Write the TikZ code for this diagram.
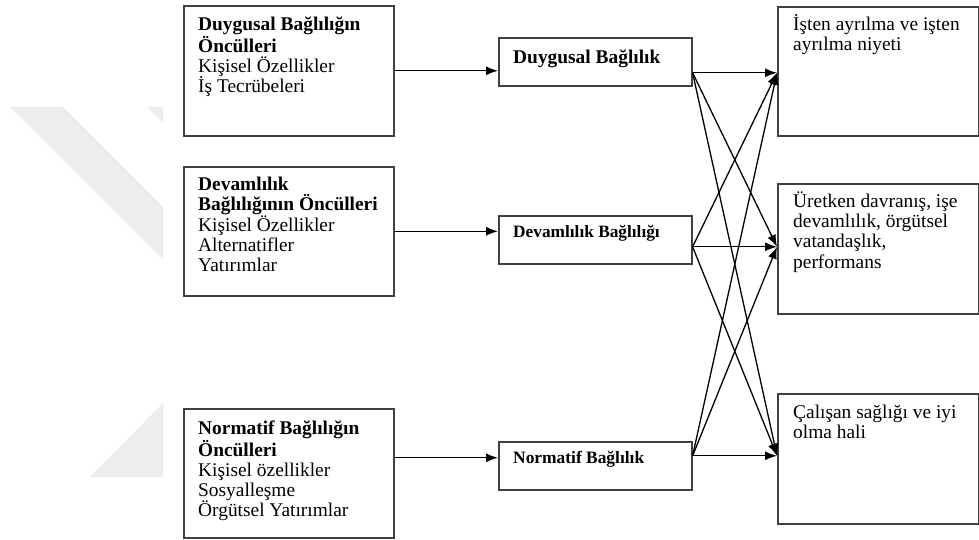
\documentclass[tikz,border=0pt]{standalone}
\usepackage{fontspec}
\setmainfont{Liberation Serif}
\usetikzlibrary{positioning,arrows.meta}

\begin{document}
\begin{tikzpicture}[>={Latex[length=12pt,width=9pt]}, x=1pt, y=-1pt]
	\tikzset{
		kutu/.style={draw=black!75, line width=1.6pt, inner sep=0, anchor=north west},
		yazi/.style={inner sep=0, anchor=north west, align=left, font=\fontsize{19.4}{20.2}\selectfont},
		ok/.style={->, line width=1.3pt}
	}
	\useasboundingbox (0,0) rectangle (979,540);
	\begin{scope}[black!7]
		\fill (10,107) -- (63,107) -- (163,207) -- (163,260) -- cycle;
		\fill (147,107) -- (163,107) -- (163,123) -- cycle;
		\fill (163,403) -- (90,477) -- (163,477) -- cycle;
	\end{scope}

	\node[kutu, minimum width=210pt, minimum height=130pt] (oncDuy) at (183,5) {};
	\node[kutu, minimum width=210pt, minimum height=129pt] (oncDev) at (183,166) {};
	\node[kutu, minimum width=210pt, minimum height=129pt] (oncNor) at (183,408) {};
	\node[yazi, below right=12pt and 15pt of oncDuy.north west] (oncDuyT)
	{\textbf{Duygusal Bağlılığın}\\\textbf{Öncülleri}\\Kişisel Özellikler\\İş Tecrübeleri};
	\node[yazi, below right=11pt and 15pt of oncDev.north west] (oncDevT)
	{\textbf{Devamlılık}\\\textbf{Bağlılığının Öncülleri}\\Kişisel Özellikler\\Alternatifler\\Yatırımlar};
	\node[yazi, below right=13pt and 15pt of oncNor.north west] (oncNorT)
	{\textbf{Normatif Bağlılığın}\\\textbf{Öncülleri}\\Kişisel özellikler\\Sosyalleşme\\Örgütsel Yatırımlar};

	\node[kutu, minimum width=193pt, minimum height=48pt] (duy) at (498,37) {};
	\node[kutu, minimum width=193pt, minimum height=48pt] (dev) at (498,215) {};
	\node[kutu, minimum width=193pt, minimum height=48pt] (nor) at (498,441) {};
	\node[yazi, font=\bfseries\fontsize{19.4}{20}\selectfont, below right=12.5pt and 15pt of duy.north west] (duyT) {Duygusal Bağlılık};
	\node[yazi, font=\bfseries\fontsize{17.3}{18}\selectfont, below right=10pt and 15pt of dev.north west] (devT) {Devamlılık Bağlılığı};
	\node[yazi, font=\bfseries\fontsize{17.4}{18}\selectfont, below right=10.5pt and 15pt of nor.north west] (norT) {Normatif Bağlılık};

	\node[kutu, minimum width=201pt, minimum height=129pt] (ayr) at (777,6) {};
	\node[kutu, minimum width=201pt, minimum height=130pt] (ure) at (777,183) {};
	\node[kutu, minimum width=201pt, minimum height=130pt] (sag) at (777,393) {};
	\node[yazi, below right=8pt and 16pt of ayr.north west] (ayrT) {İşten ayrılma ve işten\\ayrılma niyeti};
	\node[yazi, below right=8.5pt and 16pt of ure.north west] (ureT) {Üretken davranış, işe\\devamlılık, örgütsel\\vatandaşlık,\\performans};
	\node[yazi, below right=11.5pt and 16pt of sag.north west] (sagT) {Çalışan sağlığı ve iyi\\olma hali};

	\coordinate (norIn) at ([yshift=8pt]nor.west);
	\draw[ok] (oncDuy.east) -- (oncDuy.east -| duy.west);
	\draw[ok] (oncDev.east) -- (oncDev.east -| dev.west);
	\draw[ok] (oncNor.east |- norIn) -- (norIn);

	\coordinate (duyOut) at ([yshift=-11pt]duy.east);
	\coordinate (devOut) at ([yshift=-7pt]dev.east);
	\coordinate (norOut) at ([yshift=10pt]nor.east);
	\coordinate (ayrIn) at ([yshift=-1.5pt]ayr.west);
	\coordinate (ureIn) at ([yshift=2pt]ure.west);
	\coordinate (sagIn) at ([yshift=3pt]sag.west);
	\foreach \s in {duyOut,devOut,norOut}
		{
			\foreach \t in {ayrIn,ureIn,sagIn}{
					\draw[ok] (\s) -- (\t);
				}
		}
\end{tikzpicture}
\end{document}
